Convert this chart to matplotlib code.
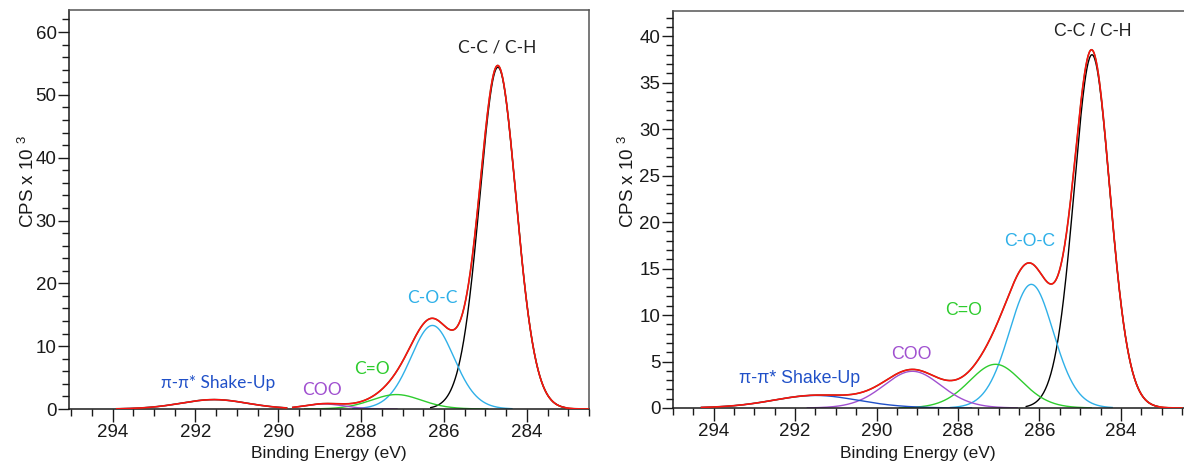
import numpy as np
import matplotlib
matplotlib.use("Agg")
import matplotlib.pyplot as plt
from matplotlib.ticker import MultipleLocator

plt.rcParams['font.family'] = ['Liberation Sans', 'DejaVu Sans']
plt.rcParams['mathtext.fontset'] = 'custom'
plt.rcParams['mathtext.rm'] = 'Liberation Sans'

# peak components (eV, CPS x 10^3, eV)
names = ["C-C / C-H", "C-O-C", "C=O", "COO", "π-π* Shake-Up"]

left_centers = [284.70, 286.28, 287.15, 288.90, 291.55]
left_heights = [54.4, 13.3, 2.3, 0.8, 1.5]
left_fwhm = [1.1, 1.3, 1.5, 1.2, 2.0]
# fit regions: (start eV, end eV, components inside)
left_regions = [(289.65, 282.5, [0, 1, 2, 3]), (293.9, 289.8, [4])]

right_centers = [284.71, 286.20, 287.08, 289.12, 291.50]
right_heights = [38.0, 13.3, 4.7, 3.95, 1.35]
right_fwhm = [1.1, 1.35, 1.6, 1.75, 2.6]
right_regions = [(294.3, 282.5, [0, 1, 2, 3, 4])]

colors = ["#000000", "#2fb0e8", "#2ecc2e", "#a050d0", "#2050c8"]


def gl(x, c, h, w, m=0.3):
    u = ((x - c) / w) ** 2
    return h * np.exp(-4 * np.log(2) * (1 - m) * u) / (1 + 4 * m * u)


def panel(ax, centers, heights, fwhm, regions):
    for start, end, comps in regions:
        e = np.linspace(start, end, 800)
        env = np.zeros_like(e)
        for i in comps:
            y = gl(e, centers[i], heights[i], fwhm[i])
            env += y
            ax.plot(e, np.where(y > 0.004 * heights[i], y, np.nan),
                    color=colors[i], lw=1.0, zorder=2)
        ax.plot(e, env, color="#8b4a1a", lw=1.2, zorder=3)
        ax.plot(e, env, color="#ff1010", lw=1.0, zorder=4)


fig = plt.figure(figsize=(11.84, 4.65), dpi=100)
ax1 = fig.add_axes([0.0583, 0.1204, 0.4392, 0.858])
ax2 = fig.add_axes([0.5684, 0.1226, 0.4316, 0.8537])

panel(ax1, left_centers, left_heights, left_fwhm, left_regions)
panel(ax2, right_centers, right_heights, right_fwhm, right_regions)

ax1.set_xlim(295.05, 282.5)
ax1.set_ylim(0, 63.5)
ax2.set_xlim(295.0, 282.45)
ax2.set_ylim(0, 42.7)

for ax, ymaj, ymin, lx in [(ax1, 10, 2, -0.06), (ax2, 5, 1, -0.069)]:
    ax.xaxis.set_major_locator(MultipleLocator(2))
    ax.xaxis.set_minor_locator(MultipleLocator(0.5))
    ax.yaxis.set_major_locator(MultipleLocator(ymaj))
    ax.yaxis.set_minor_locator(MultipleLocator(ymin))
    ax.tick_params(axis='both', which='major', labelsize=13.5, colors="#1a1a1a",
                   width=1.0, length=9, direction='out')
    ax.tick_params(axis='both', which='minor', width=1.0, length=5,
                   direction='out', colors="#1a1a1a")
    ax.tick_params(axis='y', which='major', length=8, pad=1)
    ax.tick_params(axis='x', which='major', pad=2)
    for s in ['left', 'bottom']:
        ax.spines[s].set_color("#1a1a1a")
        ax.spines[s].set_linewidth(1.1)
    for s in ['top', 'right']:
        ax.spines[s].set_color("#555555")
        ax.spines[s].set_linewidth(1.1)
    ax.set_xlabel("Binding Energy (eV)", fontsize=12.5, color="#1a1a1a")
    ax.set_ylabel(r"CPS x 10 $^{3}$", fontsize=13.5, color="#1a1a1a")
    ax.yaxis.set_label_coords(lx, 0.57)

ax2.spines['right'].set_visible(False)
ax1.xaxis.set_label_coords(0.5, -0.093)
ax2.xaxis.set_label_coords(0.48, -0.096)

# peak labels, left panel
lf = dict(family=['Lato', 'DejaVu Sans'], fontsize=12.5, ha='center', va='center')
ax1.text(284.72, 57.5, names[0], color="#222222", **lf)
ax1.text(286.28, 17.7, names[1], color=colors[1], **lf)
ax1.text(287.75, 6.4, names[2], color=colors[2], **lf)
ax1.text(288.95, 3.0, names[3], color=colors[3], **lf)
ax1.text(291.45, 4.2, names[4], color=colors[4], **lf)

rf = dict(fontsize=12.8, ha='center', va='center')
ax2.text(284.7, 40.5, names[0], color="#222222", **rf)
ax2.text(286.25, 17.9, names[1], color=colors[1], **rf)
ax2.text(287.85, 10.5, names[2], color=colors[2], **rf)
ax2.text(289.15, 5.7, names[3], color=colors[3], **rf)
ax2.text(291.9, 3.2, names[4], color=colors[4], **rf)

fig.savefig("out.png", dpi=100)
